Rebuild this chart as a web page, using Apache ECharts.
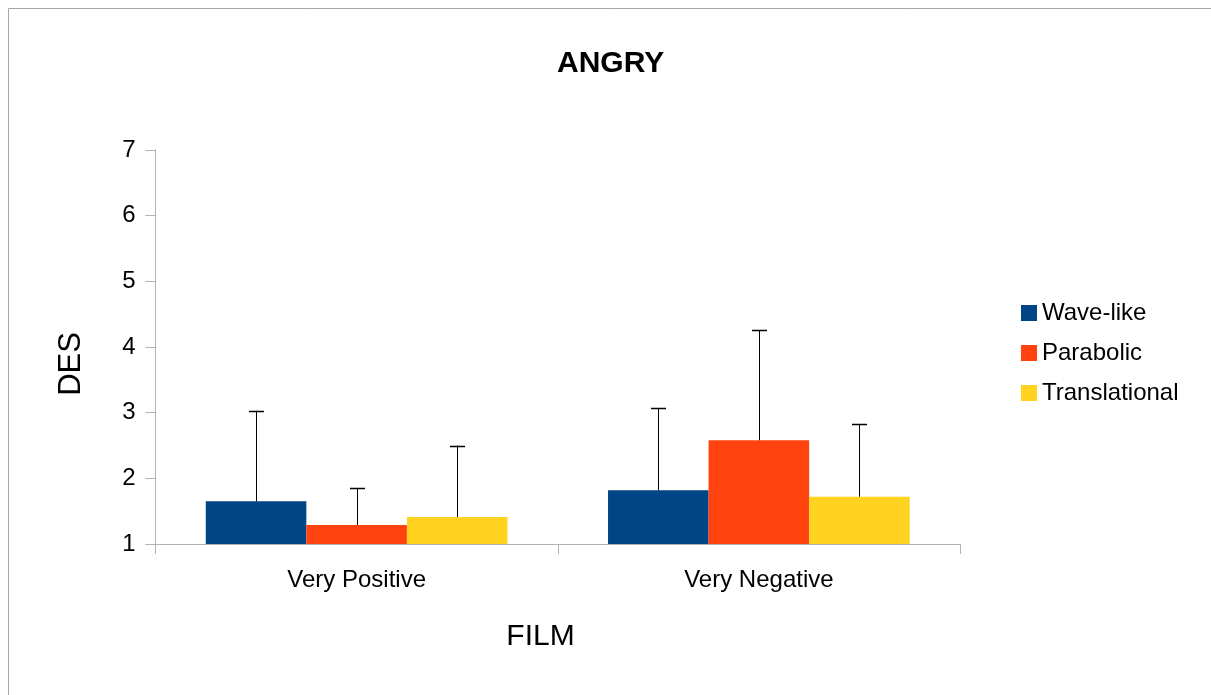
<!DOCTYPE html>
<html>
<head>
<meta charset="utf-8">
<title>ANGRY</title>
<script src="https://cdn.jsdelivr.net/npm/echarts@6/dist/echarts.min.js"></script>
<style>
  html, body { margin: 0; padding: 0; background: #fff; }
  #chart { width: 1211px; height: 695px; }
</style>
</head>
<body>
<div id="chart"></div>
<script>
// data
const categories = ['Very Positive', 'Very Negative'];
const seriesNames = ['Wave-like', 'Parabolic', 'Translational'];
const waveLike = [1.65, 1.82];
const parabolic = [1.29, 2.58];
const translational = [1.41, 1.72];
// upper error bar lengths
const waveLikeErr = [1.38, 1.25];
const parabolicErr = [0.56, 1.68];
const translationalErr = [1.09, 1.10];
const yTicks = [1, 2, 3, 4, 5, 6, 7];

const colors = ['#004586', '#ff420e', '#ffd320'];
const FONT = 'Liberation Sans, Arial, sans-serif';
const GAP = 0.25;

const chart = echarts.init(document.getElementById('chart'));

const means = [waveLike, parabolic, translational];
const errs = [waveLikeErr, parabolicErr, translationalErr];

// error bar series (upper whisker only), drawn on top of each bar
function errorSeries(idx) {
  const data = categories.map((c, i) => [i, means[idx][i], means[idx][i] + errs[idx][i]]);
  return {
    type: 'custom',
    name: seriesNames[idx] + ' err',
    z: 10,
    data: data,
    encode: { x: 0, y: [1, 2] },
    renderItem: function (params, api) {
      const band = api.size([1, 0])[0];
      const barW = band * (1 - GAP) / 3;
      const off = (idx - 1) * barW;
      const lo = api.coord([api.value(0), api.value(1)]);
      const hi = api.coord([api.value(0), api.value(2)]);
      const x = Math.round(lo[0] + off) + 0.5;
      const cap = 7.5;
      return {
        type: 'group',
        children: [
          { type: 'line', shape: { x1: x, y1: lo[1], x2: x, y2: hi[1] }, style: { stroke: '#000', lineWidth: 1 } },
          { type: 'line', shape: { x1: x - cap, y1: Math.round(hi[1]) + 0.5, x2: x + cap, y2: Math.round(hi[1]) + 0.5 }, style: { stroke: '#000', lineWidth: 1.5 } }
        ]
      };
    }
  };
}

const barSeries = seriesNames.map((name, idx) => ({
  name: name,
  type: 'bar',
  data: means[idx],
  barGap: 0,
  barCategoryGap: (GAP * 100) + '%',
  itemStyle: { color: colors[idx] },
  emphasis: { disabled: true }
}));

const option = {
  animation: false,
  backgroundColor: '#fff',
  textStyle: { fontFamily: FONT },
  title: {
    text: 'ANGRY',
    left: 552,
    top: 44,
    textStyle: { fontFamily: FONT, fontSize: 30, fontWeight: 'bold', color: '#000' }
  },
  legend: {
    orient: 'vertical',
    left: 1016,
    top: 296,
    itemWidth: 16,
    itemHeight: 16,
    itemGap: 16,
    icon: 'rect',
    data: seriesNames,
    textStyle: { fontFamily: FONT, fontSize: 24, color: '#000' }
  },
  grid: { left: 155.5, right: 251, top: 150, bottom: 151 },
  xAxis: {
    type: 'category',
    data: categories,
    axisLine: { lineStyle: { color: '#b3b3b3', width: 1 } },
    axisTick: { show: true, length: 10, alignWithLabel: false, lineStyle: { color: '#b3b3b3' } },
    axisLabel: { fontFamily: FONT, fontSize: 24, color: '#000', margin: 24 },
    splitLine: { show: false }
  },
  yAxis: {
    type: 'value',
    min: yTicks[0],
    max: yTicks[yTicks.length - 1],
    interval: 1,
    axisLine: { show: true, lineStyle: { color: '#b3b3b3', width: 1 } },
    axisTick: { show: true, length: 10, lineStyle: { color: '#b3b3b3' } },
    axisLabel: { fontFamily: FONT, fontSize: 24, color: '#000', margin: 20, padding: [3, 0, 0, 0] },
    splitLine: { show: false }
  },
  graphic: [
    {
      type: 'rect',
      silent: true,
      shape: { x: 8.5, y: 8.5, width: 1300, height: 800 },
      style: { fill: 'none', stroke: '#a6a6a6', lineWidth: 1 }
    },
    {
      type: 'text',
      x: 71.5,
      y: 364,
      rotation: Math.PI / 2,
      style: { text: 'DES', font: 'normal 31px ' + FONT, fill: '#000', align: 'center', verticalAlign: 'middle' }
    },
    {
      type: 'text',
      x: 540.5,
      y: 637,
      style: { text: 'FILM', font: 'normal 30px ' + FONT, fill: '#000', align: 'center', verticalAlign: 'middle' }
    }
  ],
  series: barSeries.concat([errorSeries(0), errorSeries(1), errorSeries(2)])
};

chart.setOption(option);
</script>
</body>
</html>
